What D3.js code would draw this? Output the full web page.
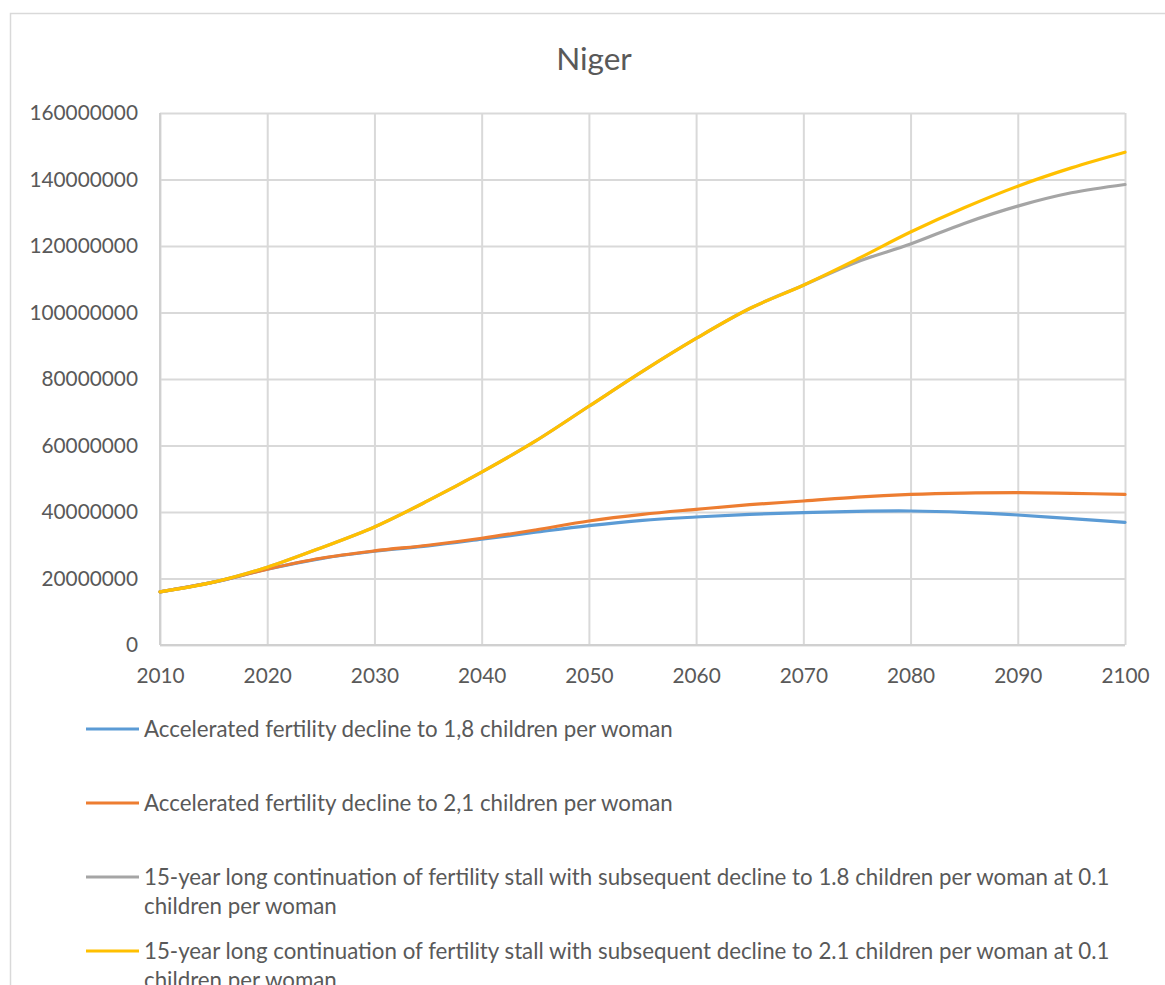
<!DOCTYPE html>
<html><head><meta charset="utf-8">
<script src="https://cdn.jsdelivr.net/npm/d3@7"></script>
<style>
html,body{margin:0;padding:0;background:#fff;}
svg{display:block;font-family:Lato,"Open Sans",sans-serif;}
</style></head>
<body>
<svg id="chart" width="1165" height="985"></svg>
<script>
const title = "Niger";
const years = [2010,2015,2020,2025,2030,2035,2040,2045,2050,2055,2060,2065,2070,2075,2080,2085,2090,2095,2100];
const accel18 = [16.0,18.9,22.8,26.0,28.2,29.8,31.8,33.9,35.9,37.5,38.5,39.3,39.8,40.2,40.3,39.9,39.1,38.0,36.9];
const accel21 = [16.0,18.9,22.8,26.1,28.3,30.0,32.1,34.6,37.3,39.3,40.8,42.2,43.3,44.5,45.3,45.7,45.8,45.6,45.3];
const stall18 = [16.0,18.9,23.4,29.2,35.5,43.4,52.0,61.3,71.8,82.3,92.2,101.2,108.2,115.2,120.6,126.8,132.0,136.0,138.5];
const stall21 = [16.0,18.9,23.4,29.2,35.5,43.4,52.0,61.3,71.8,82.3,92.2,101.2,108.2,116.0,124.2,131.5,138.0,143.5,148.2];
const xTicks = [2010,2020,2030,2040,2050,2060,2070,2080,2090,2100];
const yTicks = [0,20000000,40000000,60000000,80000000,100000000,120000000,140000000,160000000];
const seriesNames = [
  ["Accelerated fertility decline to 1,8 children per woman"],
  ["Accelerated fertility decline to 2,1 children per woman"],
  ["15-year long continuation of fertility stall with subsequent decline to 1.8 children per woman at 0.1","children per woman"],
  ["15-year long continuation of fertility stall with subsequent decline to 2.1 children per woman at 0.1","children per woman"]
];
const seriesColors = ["#5B9BD5","#ED7D31","#A5A5A5","#FFC000"];
const seriesValues = [accel18, accel21, stall18, stall21];

(function(){
const svg = d3.select("#chart");
const textColor = "#595959";
const grid = "#D9D9D9";

svg.append("rect").attr("x",10.5).attr("y",13.5).attr("width",1200).attr("height",1000)
  .attr("fill","none").attr("stroke","#D9D9D9").attr("stroke-width",1.5);

const pL=160, pR=1125, pT=113, pB=645;
const x = d3.scaleLinear().domain([2010,2100]).range([pL,pR]);
const y = d3.scaleLinear().domain([0,160000000]).range([pB,pT]);

svg.append("text").attr("x",594).attr("y",70).attr("text-anchor","middle")
  .attr("font-size",31.5).attr("fill",textColor).text(title);

const gy = svg.append("g").attr("transform",`translate(${pL},0)`)
  .call(d3.axisLeft(y).tickValues(yTicks).tickSize(-(pR-pL)).tickFormat(d=>d3.format("d")(d)).tickPadding(22));
gy.select(".domain").remove();
gy.selectAll(".tick line").attr("stroke",grid).attr("stroke-width",2);
gy.selectAll(".tick text").attr("font-size",20.8).attr("fill",textColor).attr("font-family","Lato");

const gx = svg.append("g").attr("transform",`translate(0,${pB})`)
  .call(d3.axisBottom(x).tickValues(xTicks).tickSize(-(pB-pT)).tickFormat(d3.format("d")).tickPadding(23));
gx.select(".domain").remove();
gx.selectAll(".tick line").attr("stroke",grid).attr("stroke-width",2);
gx.selectAll(".tick text").attr("font-size",20.8).attr("fill",textColor).attr("font-family","Lato");

svg.append("line").attr("x1",pL).attr("x2",pR).attr("y1",pB).attr("y2",pB).attr("stroke","#D0D0D0").attr("stroke-width",2);
svg.append("line").attr("x1",pL).attr("x2",pL).attr("y1",pT).attr("y2",pB).attr("stroke","#D0D0D0").attr("stroke-width",2);

const line = d3.line().x((d,i)=>x(years[i])).y(d=>y(d*1e6)).curve(d3.curveCatmullRom.alpha(0.5));
seriesValues.forEach((vals,k)=>{
  svg.append("path").datum(vals).attr("d",line).attr("fill","none")
    .attr("stroke",seriesColors[k]).attr("stroke-width",3.2).attr("stroke-linecap","round");
});

const legendY = [729,803,877,951];
seriesNames.forEach((lines,k)=>{
  const g = svg.append("g");
  g.append("line").attr("x1",86).attr("x2",139).attr("y1",legendY[k]).attr("y2",legendY[k])
    .attr("stroke",seriesColors[k]).attr("stroke-width",3.2);
  const t = g.append("text").attr("x",144).attr("y",legendY[k]+8).attr("font-size",22.3).attr("fill",textColor);
  lines.forEach((s,j)=>{
    t.append("tspan").attr("x",144).attr("dy",j===0?0:28.5).text(s);
  });
});
})();
</script>
</body></html>
